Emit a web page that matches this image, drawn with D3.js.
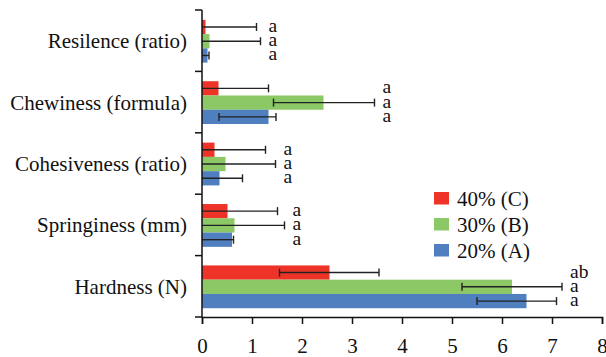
<!DOCTYPE html>
<html><head><meta charset="utf-8">
<script src="https://cdn.jsdelivr.net/npm/d3@7"></script>
<style>
html,body{margin:0;padding:0;background:#fff;}
svg{display:block;}
</style></head>
<body>
<script>
const categories = ["Resilence (ratio)", "Chewiness (formula)", "Cohesiveness (ratio)", "Springiness (mm)", "Hardness (N)"];
const seriesNames = ["40% (C)", "30% (B)", "20% (A)"];
const seriesColors = ["#EE3429", "#8DC866", "#4F7FBF"];
// values per series, in category order
const values40 = [0.07, 0.33, 0.25, 0.51, 2.55];
const values30 = [0.15, 2.43, 0.47, 0.65, 6.2];
const values20 = [0.11, 1.33, 0.35, 0.60, 6.49];
// error bar ends (low, high)
const errLow40 = [-0.93, -0.67, -0.75, -0.49, 1.55];
const errHigh40 = [1.09, 1.33, 1.27, 1.51, 3.54];
const errLow30 = [-0.85, 1.43, -0.53, -0.35, 5.2];
const errHigh30 = [1.17, 3.45, 1.47, 1.65, 7.2];
const errLow20 = [-0.89, 0.34, -0.65, -0.40, 5.5];
const errHigh20 = [0.14, 1.48, 0.81, 0.63, 7.09];
// significance letters
const letters40 = ["a", "a", "a", "a", "ab"];
const letters30 = ["a", "a", "a", "a", "a"];
const letters20 = ["a", "a", "a", "a", "a"];
const xTicks = [0, 1, 2, 3, 4, 5, 6, 7, 8];

const FONT = "'Liberation Serif', 'Times New Roman', serif";
const series = [
  {name: seriesNames[0], color: seriesColors[0], v: values40, lo: errLow40, hi: errHigh40, l: letters40},
  {name: seriesNames[1], color: seriesColors[1], v: values30, lo: errLow30, hi: errHigh30, l: letters30},
  {name: seriesNames[2], color: seriesColors[2], v: values20, lo: errLow20, hi: errHigh20, l: letters20}
];

const W = 606, H = 357;
const svg = d3.select("body").append("svg").attr("width", W).attr("height", H)
  .attr("font-family", "Liberation Serif, serif").style("font-family", FONT);

const x = d3.scaleLinear().domain([0, 8]).range([202, 602]);
const y = d3.scaleBand().domain(categories).range([10, 317]).padding(0);
const bw = y.bandwidth();
const yi = d3.scaleBand().domain(seriesNames).range([bw * 0.16, bw * 0.857]).padding(0);

// bars
series.forEach(s => {
  svg.append("g").selectAll("rect").data(categories).join("rect")
    .attr("x", x(0))
    .attr("y", (c) => y(c) + yi(s.name))
    .attr("width", (c, i) => x(s.v[i]) - x(0))
    .attr("height", yi.bandwidth())
    .attr("fill", s.color);
});

// error bars
series.forEach(s => {
  const g = svg.append("g").attr("stroke", "#222").attr("stroke-width", 1.4);
  categories.forEach((c, i) => {
    const cy = y(c) + yi(s.name) + yi.bandwidth() / 2;
    const lo = Math.max(0, s.lo[i]);
    const hi = s.hi[i];
    g.append("line").attr("x1", x(lo)).attr("x2", x(hi)).attr("y1", cy).attr("y2", cy);
    g.append("line").attr("x1", x(hi)).attr("x2", x(hi)).attr("y1", cy - 4).attr("y2", cy + 4);
    if (s.lo[i] > 0) g.append("line").attr("x1", x(lo)).attr("x2", x(lo)).attr("y1", cy - 4).attr("y2", cy + 4);
  });
});

// letters
categories.forEach((c, i) => {
  const maxHi = d3.max(series, s => s.hi[i]);
  series.forEach(s => {
    const cy = y(c) + yi(s.name) + yi.bandwidth() / 2;
    svg.append("text").attr("x", x(maxHi) + 8).attr("y", cy + 5)
      .attr("font-size", 19.5).attr("fill", "#111").style("font-family", FONT).text(s.l[i]);
  });
});

// y axis
const yAxis = d3.axisLeft(y).tickSize(0).tickPadding(15);
const ga = svg.append("g").attr("transform", `translate(${x(0)},0)`).call(yAxis);
ga.attr("font-family", null);
ga.select(".domain").remove();
ga.selectAll("text").attr("font-size", 21).attr("fill", "#111").style("font-family", FONT).attr("dy", "0.36em");
const bounds = categories.map(c => y(c)).concat([y(categories[categories.length - 1]) + bw]);
svg.append("g").selectAll("line").data(bounds).join("line")
  .attr("x1", x(0) - 7).attr("x2", x(0)).attr("y1", d => d).attr("y2", d => d)
  .attr("stroke", "#111").attr("stroke-width", 1.5);
svg.append("line").attr("x1", x(0)).attr("x2", x(0)).attr("y1", 10).attr("y2", 317)
  .attr("stroke", "#111").attr("stroke-width", 1.5);

// x axis
const xAxis = d3.axisBottom(x).tickValues(xTicks).tickSize(7).tickPadding(14).tickFormat(d3.format("d"));
const gx = svg.append("g").attr("transform", `translate(0,317)`).call(xAxis);
gx.attr("font-family", null);
gx.select(".domain").attr("stroke", "#111").attr("stroke-width", 1.5);
gx.selectAll(".tick line").attr("stroke", "#111").attr("stroke-width", 1.5);
gx.selectAll("text").attr("font-size", 21).attr("fill", "#111").style("font-family", FONT);

// legend
const leg = svg.append("g").attr("transform", "translate(434,192)");
series.forEach((s, i) => {
  const g = leg.append("g").attr("transform", `translate(0,${i * 26})`);
  g.append("rect").attr("width", 15).attr("height", 12.5).attr("fill", s.color);
  g.append("text").attr("x", 23).attr("y", 13.5).attr("font-size", 21).attr("fill", "#111").style("font-family", FONT).text(s.name);
});
</script>
</body></html>
